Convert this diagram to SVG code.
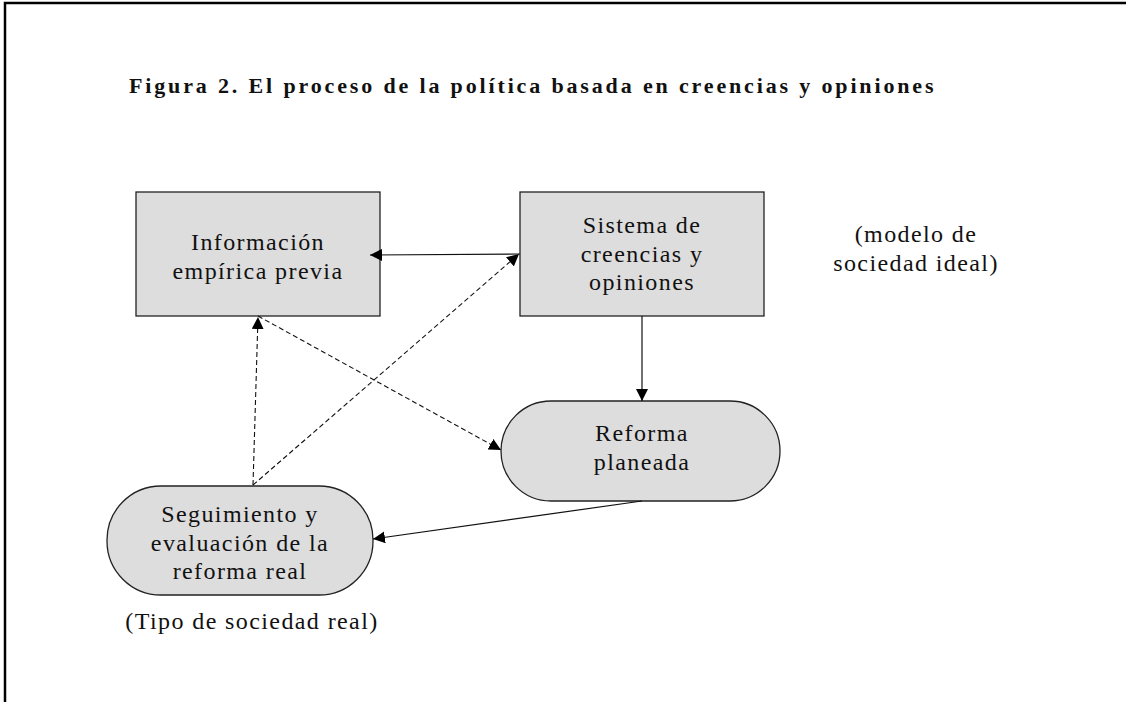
<svg xmlns="http://www.w3.org/2000/svg" width="1126" height="702" viewBox="0 0 1126 702">
<style>
.t{font-family:"Liberation Serif","Times New Roman",serif;font-size:24px;letter-spacing:1.4px;fill:#111;text-anchor:middle}
.n{fill:#dddddd;stroke:#222;stroke-width:1.3}
.c{stroke:#111;stroke-width:1.2;fill:none}
.d{stroke:#111;stroke-width:1.1;fill:none;stroke-dasharray:5 3}
</style>
<defs>
<marker id="ah" viewBox="0 0 10 10" refX="10" refY="5" markerWidth="12" markerHeight="12" markerUnits="userSpaceOnUse" orient="auto">
<path d="M0,0 L10,5 L0,10 Z" fill="#000"/>
</marker>
</defs>
<rect width="1126" height="702" fill="#fff"/>
<path d="M5,702 V3 H1126" fill="none" stroke="#000" stroke-width="2.5"/>
<text x="129" y="93" font-family="'Liberation Serif','Times New Roman',serif" font-weight="bold" font-size="22" letter-spacing="2.85" fill="#111">Figura 2. El proceso de la política basada en creencias y opiniones</text>
<g id="info">
<rect class="n" x="136" y="192" width="244" height="124"/>
<text class="t" x="258" y="250">Información</text>
<text class="t" x="258" y="279">empírica previa</text>
</g>
<g id="sistema">
<rect class="n" x="520" y="192" width="244" height="124"/>
<text class="t" x="642" y="233">Sistema de</text>
<text class="t" x="642" y="262">creencias y</text>
<text class="t" x="642" y="290">opiniones</text>
</g>
<g id="reforma">
<rect class="n" x="501" y="401" width="279" height="100" rx="50" ry="50"/>
<text class="t" x="642" y="441">Reforma</text>
<text class="t" x="642" y="470">planeada</text>
</g>
<g id="seguimiento">
<rect class="n" x="107" y="486" width="266" height="109" rx="54" ry="54"/>
<text class="t" x="240" y="522">Seguimiento y</text>
<text class="t" x="240" y="551">evaluación de la</text>
<text class="t" x="240" y="579">reforma real</text>
</g>
<g id="labels">
<text class="t" x="916" y="242">(modelo de</text>
<text class="t" x="916" y="271">sociedad ideal)</text>
<text class="t" x="252" y="629">(Tipo de sociedad real)</text>
</g>
<g id="connectors">
<line class="c" x1="520" y1="254" x2="370" y2="255" marker-end="url(#ah)"/>
<line class="c" x1="642" y1="316" x2="642" y2="401" marker-end="url(#ah)"/>
<line class="c" x1="642" y1="501" x2="373" y2="539" marker-end="url(#ah)"/>
<line class="d" x1="253" y1="485" x2="258" y2="317" marker-end="url(#ah)"/>
<line class="d" x1="253" y1="485" x2="519" y2="254" marker-end="url(#ah)"/>
<line class="d" x1="258" y1="316" x2="501" y2="450" marker-end="url(#ah)"/>
</g>
</svg>
